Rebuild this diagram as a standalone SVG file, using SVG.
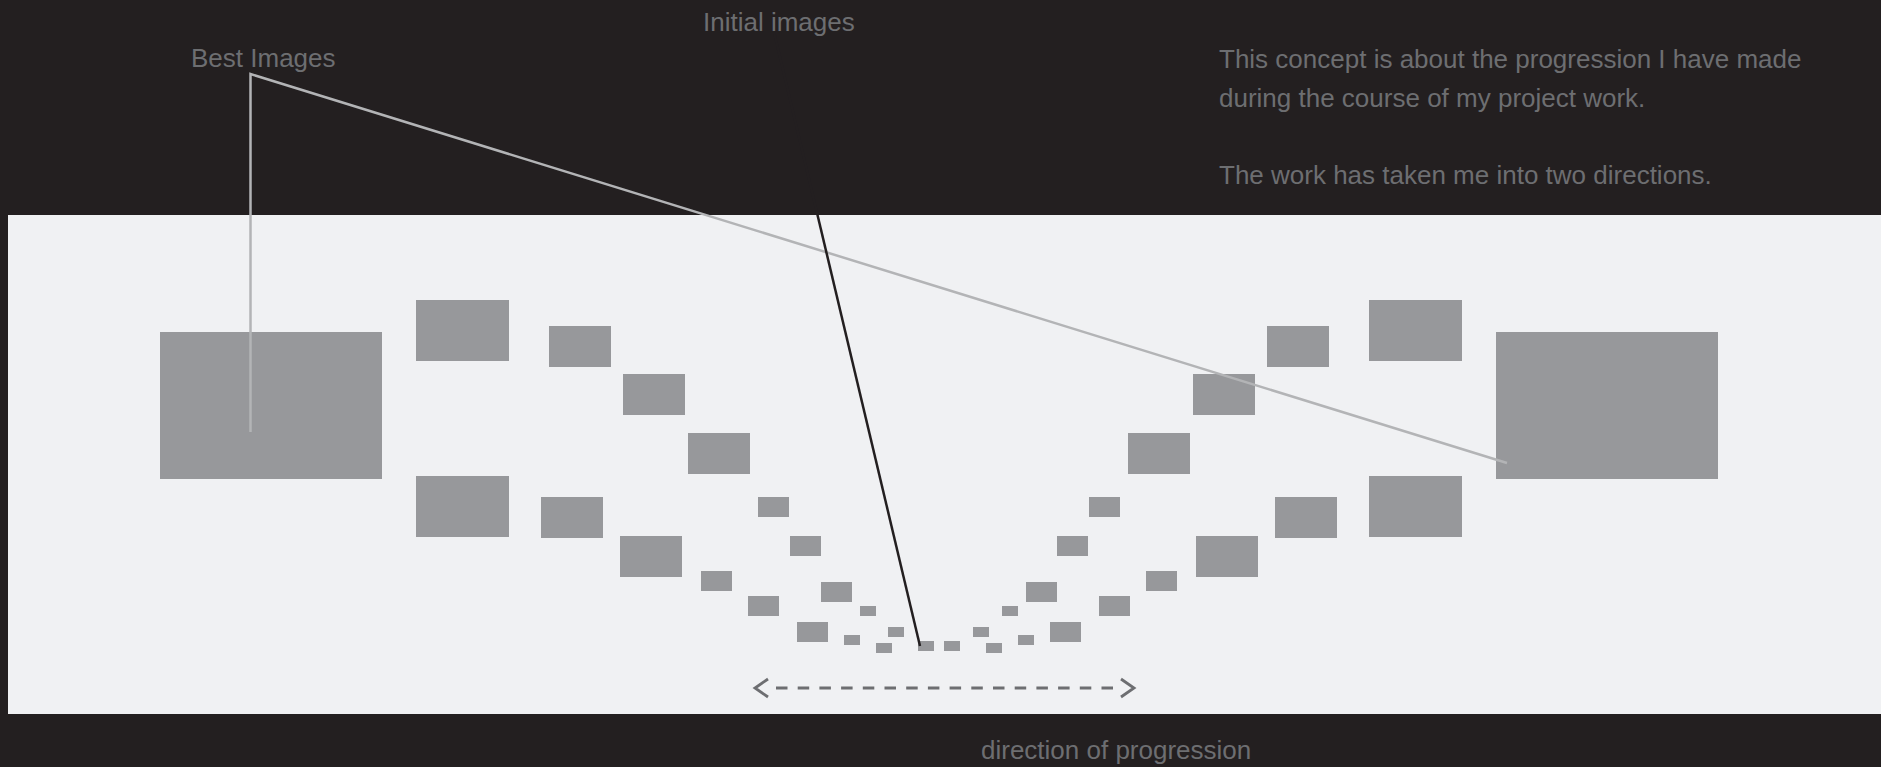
<svg xmlns="http://www.w3.org/2000/svg" width="1881" height="767" viewBox="0 0 1881 767">
  <style>
    .lbl { font-family: "Liberation Sans", Arial, sans-serif; font-size: 26px; fill: #6d6e71; }
    .img { fill: #97989b; }
    .best { fill: none; stroke: #b3b4b6; stroke-width: 2.5; stroke-linejoin: miter; }
    .init { fill: none; stroke: #231f20; stroke-width: 2.5; }
    .dir { fill: none; stroke: #6d6e71; stroke-width: 2.8; }
  </style>
  <rect id="background" x="0" y="0" width="1881" height="767" fill="#231f20"/>
  <rect id="panel" x="8" y="215" width="1873" height="499" fill="#f0f1f3"/>

  <g id="best-left"><rect class="img" x="160" y="332" width="222" height="147"/></g>
  <g id="best-right"><rect class="img" x="1496" y="332" width="222" height="147"/></g>

  <g id="images-left">
    <rect class="img" x="416" y="300" width="93" height="61"/>
    <rect class="img" x="416" y="476" width="93" height="61"/>
    <rect class="img" x="549" y="326" width="62" height="41"/>
    <rect class="img" x="623" y="374" width="62" height="41"/>
    <rect class="img" x="688" y="433" width="62" height="41"/>
    <rect class="img" x="541" y="497" width="62" height="41"/>
    <rect class="img" x="620" y="536" width="62" height="41"/>
    <rect class="img" x="758" y="497" width="31" height="20"/>
    <rect class="img" x="790" y="536" width="31" height="20"/>
    <rect class="img" x="701" y="571" width="31" height="20"/>
    <rect class="img" x="821" y="582" width="31" height="20"/>
    <rect class="img" x="748" y="596" width="31" height="20"/>
    <rect class="img" x="797" y="622" width="31" height="20"/>
    <rect class="img" x="860" y="606" width="16" height="10"/>
    <rect class="img" x="844" y="635" width="16" height="10"/>
    <rect class="img" x="888" y="627" width="16" height="10"/>
    <rect class="img" x="876" y="643" width="16" height="10"/>
    <rect class="img" x="918" y="641" width="16" height="10"/>
  </g>

  <g id="images-right">
    <rect class="img" x="1369" y="300" width="93" height="61"/>
    <rect class="img" x="1369" y="476" width="93" height="61"/>
    <rect class="img" x="1267" y="326" width="62" height="41"/>
    <rect class="img" x="1193" y="374" width="62" height="41"/>
    <rect class="img" x="1128" y="433" width="62" height="41"/>
    <rect class="img" x="1275" y="497" width="62" height="41"/>
    <rect class="img" x="1196" y="536" width="62" height="41"/>
    <rect class="img" x="1089" y="497" width="31" height="20"/>
    <rect class="img" x="1057" y="536" width="31" height="20"/>
    <rect class="img" x="1146" y="571" width="31" height="20"/>
    <rect class="img" x="1026" y="582" width="31" height="20"/>
    <rect class="img" x="1099" y="596" width="31" height="20"/>
    <rect class="img" x="1050" y="622" width="31" height="20"/>
    <rect class="img" x="1002" y="606" width="16" height="10"/>
    <rect class="img" x="1018" y="635" width="16" height="10"/>
    <rect class="img" x="973" y="627" width="16" height="10"/>
    <rect class="img" x="986" y="643" width="16" height="10"/>
    <rect class="img" x="944" y="641" width="16" height="10"/>
  </g>

  <g id="connectors">
    <polyline class="best" points="250.5,432 250.5,74 1507,463"/>
    <line class="init" x1="774" y1="32" x2="920" y2="646"/>
    <line class="dir" x1="776" y1="688" x2="1113" y2="688" stroke-dasharray="11.5 10.2"/>
    <polyline class="dir" points="768,679 755,688 768,697"/>
    <polyline class="dir" points="1121,679 1134,688 1121,697"/>
  </g>

  <g id="labels">
    <text class="lbl" x="191" y="67">Best Images</text>
    <text class="lbl" x="703" y="31">Initial images</text>
    <text class="lbl" x="1219" y="68">This concept is about the progression I have made</text>
    <text class="lbl" x="1219" y="107">during the course of my project work.</text>
    <text class="lbl" x="1219" y="184">The work has taken me into two directions.</text>
    <text class="lbl" x="981" y="759">direction of progression</text>
  </g>
</svg>
